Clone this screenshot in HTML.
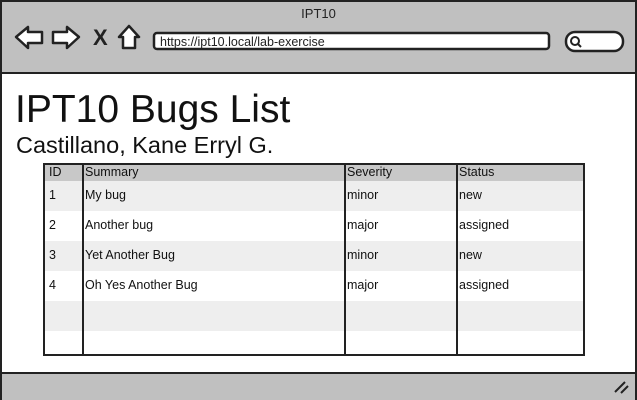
<!DOCTYPE html>
<html><head><style>
body{margin:0;width:637px;height:400px;overflow:hidden;font-family:"Liberation Sans",sans-serif;background:#fff}
.a{position:absolute}
</style></head><body>
<div class="a" style="left:0;top:0;width:633px;height:396px;border:2px solid #222;background:#fff"></div>
<div class="a" style="left:2px;top:2px;width:633px;height:70px;background:#c0c0c0;border-bottom:2px solid #222"></div>
<div class="a" style="left:2px;top:372px;width:633px;height:26px;background:#c0c0c0;border-top:2px solid #222"></div>
<div class="a" style="left:0;top:6px;width:637px;text-align:center;font-size:13px;color:#222">IPT10</div>
<svg class="a" style="left:0;top:0" width="637" height="72">
<g fill="#fff" stroke="#222" stroke-width="2.5" stroke-linejoin="round">
<path d="M16 37 L28 27 L28 32 L42 32 L42 43 L28 43 L28 48 Z"/>
<path d="M79 37 L67 27 L67 32 L53 32 L53 43 L67 43 L67 48 Z"/>
<path d="M119 37 L129 26 L139 37 L135 37 L135 48 L123 48 L123 37 Z"/>
<rect x="154" y="33" width="395" height="16" rx="3"/>
<rect x="566" y="32" width="57" height="19" rx="9"/>
<circle cx="575" cy="41" r="4" stroke-width="2"/>
</g>
<line x1="578" y1="44" x2="581" y2="47" stroke="#222" stroke-width="2"/>
<text x="93" y="45" font-family="Liberation Sans" font-weight="bold" font-size="22" fill="#222">X</text>
<text x="160" y="46" font-family="Liberation Sans" font-size="12.5" fill="#222">https://ipt10.local/lab-exercise</text>
</svg>
<svg class="a" style="left:600px;top:374px" width="35" height="24">
<path d="M15 18 L25 8 M21 19 L28 12" stroke="#222" stroke-width="2"/>
</svg>
<div class="a" style="left:15px;top:88px;font-size:39px;color:#111">IPT10 Bugs List</div>
<div class="a" style="left:16px;top:132px;font-size:23.5px;color:#111">Castillano, Kane Erryl G.</div>
<div class="a" style="left:43px;top:163px;width:538px;height:189px;border:2px solid #222;overflow:hidden;font-size:12.5px;color:#111">
<div class="a" style="left:0;top:0;width:538px;height:16px;background:#c8c8c8"></div>
<div class="a" style="left:0;top:16px;width:538px;height:30px;background:#eee"></div>
<div class="a" style="left:0;top:76px;width:538px;height:30px;background:#eee"></div>
<div class="a" style="left:0;top:136px;width:538px;height:30px;background:#eee"></div>
<div class="a" style="left:37px;top:0;width:2px;height:189px;background:#222"></div>
<div class="a" style="left:299px;top:0;width:2px;height:189px;background:#222"></div>
<div class="a" style="left:411px;top:0;width:2px;height:189px;background:#222"></div>
<div class="a" style="left:4px;top:0px">ID</div><div class="a" style="left:40px;top:0px">Summary</div><div class="a" style="left:302px;top:0px">Severity</div><div class="a" style="left:414px;top:0px">Status</div>
<div class="a" style="left:4px;top:23px">1</div><div class="a" style="left:40px;top:23px">My bug</div><div class="a" style="left:302px;top:23px">minor</div><div class="a" style="left:414px;top:23px">new</div>
<div class="a" style="left:4px;top:53px">2</div><div class="a" style="left:40px;top:53px">Another bug</div><div class="a" style="left:302px;top:53px">major</div><div class="a" style="left:414px;top:53px">assigned</div>
<div class="a" style="left:4px;top:83px">3</div><div class="a" style="left:40px;top:83px">Yet Another Bug</div><div class="a" style="left:302px;top:83px">minor</div><div class="a" style="left:414px;top:83px">new</div>
<div class="a" style="left:4px;top:113px">4</div><div class="a" style="left:40px;top:113px">Oh Yes Another Bug</div><div class="a" style="left:302px;top:113px">major</div><div class="a" style="left:414px;top:113px">assigned</div>
</div>
</body></html>
